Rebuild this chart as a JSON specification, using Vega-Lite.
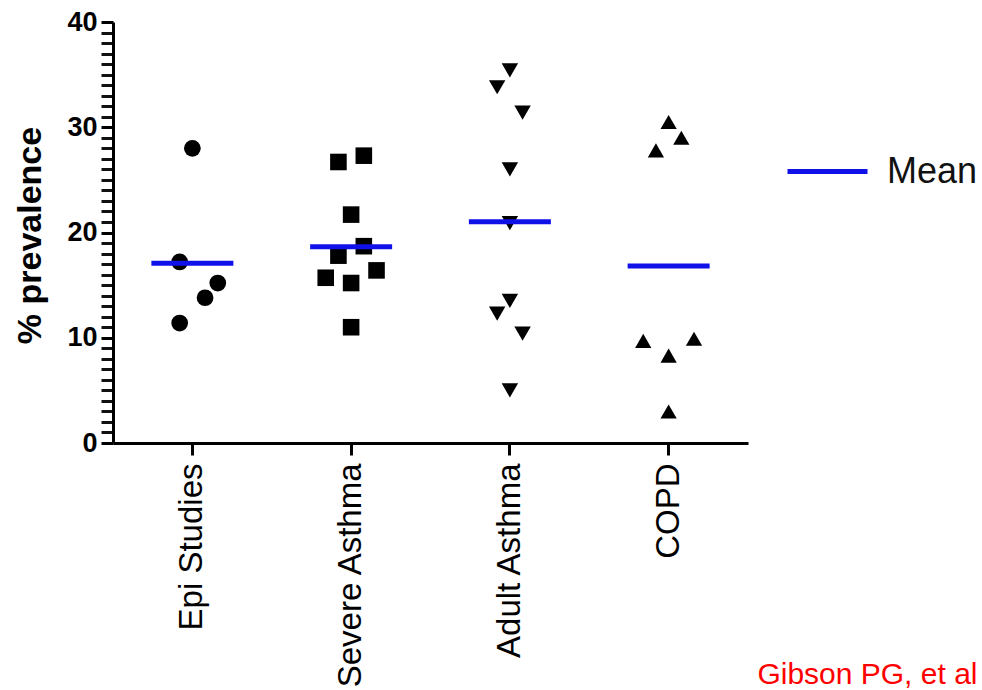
{
  "$schema": "https://vega.github.io/schema/vega-lite/v6.json",
  "autosize": "none",
  "width": 635,
  "height": 421,
  "padding": {"left": 113, "top": 22, "right": 234, "bottom": 247},
  "background": "white",
  "config": {"view": {"stroke": null}, "font": "Liberation Sans"},
  "datasets": {
    "points": [
      {"group": "Epi Studies", "value": 28.0, "lane": 0},
      {"group": "Epi Studies", "value": 17.2, "lane": -1},
      {"group": "Epi Studies", "value": 15.2, "lane": 2},
      {"group": "Epi Studies", "value": 13.8, "lane": 1},
      {"group": "Epi Studies", "value": 11.4, "lane": -1},
      {"group": "Severe Asthma", "value": 26.7, "lane": -1},
      {"group": "Severe Asthma", "value": 27.3, "lane": 1},
      {"group": "Severe Asthma", "value": 21.7, "lane": 0},
      {"group": "Severe Asthma", "value": 18.7, "lane": 1},
      {"group": "Severe Asthma", "value": 17.8, "lane": -1},
      {"group": "Severe Asthma", "value": 15.7, "lane": -2},
      {"group": "Severe Asthma", "value": 15.2, "lane": 0},
      {"group": "Severe Asthma", "value": 16.4, "lane": 2},
      {"group": "Severe Asthma", "value": 11.0, "lane": 0},
      {"group": "Adult Asthma", "value": 35.4, "lane": 0},
      {"group": "Adult Asthma", "value": 33.8, "lane": -1},
      {"group": "Adult Asthma", "value": 31.4, "lane": 1},
      {"group": "Adult Asthma", "value": 26.0, "lane": 0},
      {"group": "Adult Asthma", "value": 20.9, "lane": 0},
      {"group": "Adult Asthma", "value": 13.5, "lane": 0},
      {"group": "Adult Asthma", "value": 12.3, "lane": -1},
      {"group": "Adult Asthma", "value": 10.4, "lane": 1},
      {"group": "Adult Asthma", "value": 5.0, "lane": 0},
      {"group": "COPD", "value": 30.5, "lane": 0},
      {"group": "COPD", "value": 29.0, "lane": 1},
      {"group": "COPD", "value": 27.8, "lane": -1},
      {"group": "COPD", "value": 9.7, "lane": -2},
      {"group": "COPD", "value": 9.9, "lane": 2},
      {"group": "COPD", "value": 8.3, "lane": 0},
      {"group": "COPD", "value": 3.0, "lane": 0}
    ],
    "means": [
      {"group": "Epi Studies", "value": 17.07, "series": "Mean"},
      {"group": "Severe Asthma", "value": 18.65, "series": "Mean"},
      {"group": "Adult Asthma", "value": 21.03, "series": "Mean"},
      {"group": "COPD", "value": 16.82, "series": "Mean"}
    ]
  },
  "encoding": {
    "x": {
      "field": "group",
      "type": "nominal",
      "sort": ["Epi Studies", "Severe Asthma", "Adult Asthma", "COPD"],
      "scale": {"type": "band", "paddingInner": 0, "paddingOuter": 0},
      "axis": {
        "title": "Gibson PG, et al",
        "titleColor": "#ff0000",
        "titleFont": "Liberation Sans",
        "titleFontSize": 30,
        "titleFontWeight": "normal",
        "titleAlign": "right",
        "titleBaseline": "alphabetic",
        "titleAngle": 0,
        "titleX": 864,
        "titleY": 240,
        "titleLimit": 0,
        "labelAngle": -90,
        "labelFontSize": 33,
        "labelFont": "Liberation Sans",
        "labelColor": "#000000",
        "labelPadding": 8,
        "labelLimit": 0,
        "tickSize": 12,
        "tickWidth": 3,
        "tickColor": "#000000",
        "domainColor": "#000000",
        "domainWidth": 3,
        "grid": false
      }
    },
    "y": {
      "field": "value",
      "type": "quantitative",
      "scale": {"domain": [0, 40], "nice": false, "zero": true},
      "axis": {
        "title": "% prevalence",
        "titleFontSize": 34,
        "titleFontWeight": "bold",
        "titleFont": "Liberation Sans",
        "titleColor": "#000000",
        "titleAngle": -90,
        "titleAlign": "center",
        "titleBaseline": "alphabetic",
        "titleX": -73,
        "titleY": 213,
        "tickCount": 41,
        "values": [0,1,2,3,4,5,6,7,8,9,10,11,12,13,14,15,16,17,18,19,20,21,22,23,24,25,26,27,28,29,30,31,32,33,34,35,36,37,38,39,40],
        "labelExpr": "datum.value % 10 === 0 ? datum.label : ''",
        "labelOverlap": false,
        "labelFontSize": 27,
        "labelFontWeight": "bold",
        "labelFont": "Liberation Sans",
        "labelColor": "#000000",
        "labelPadding": 4,
        "tickSize": 12,
        "tickWidth": 3,
        "tickColor": {"condition": {"test": "datum.value % 10 === 0", "value": "#000000"}, "value": "#111111"},
        "domainColor": "#000000",
        "domainWidth": 3,
        "grid": false,
        "encode": {
          "ticks": {
            "update": {
              "x2": {"signal": "datum.value % 10 === 0 ? -12 : -6"}
            }
          }
        }
      }
    }
  },
  "layer": [
    {
      "data": {"name": "points"},
      "mark": {"type": "point", "filled": true, "opacity": 1, "color": "#000000"},
      "encoding": {
        "xOffset": {"field": "lane", "type": "quantitative", "scale": {"domain": [-6.25, 6.25]}},
        "shape": {
          "field": "group",
          "type": "nominal",
          "scale": {
            "domain": ["Epi Studies", "Severe Asthma", "Adult Asthma", "COPD"],
            "range": ["circle", "square", "triangle-down", "triangle-up"]
          },
          "legend": null
        },
        "size": {
          "field": "group",
          "type": "nominal",
          "scale": {
            "domain": ["Epi Studies", "Severe Asthma", "Adult Asthma", "COPD"],
            "range": [280, 265, 320, 320]
          },
          "legend": null
        }
      }
    },
    {
      "data": {"name": "means"},
      "mark": {"type": "tick", "size": 82, "thickness": 5, "opacity": 1},
      "encoding": {
        "color": {
          "field": "series",
          "type": "nominal",
          "scale": {"range": ["#1010e8"]},
          "legend": {
            "title": null,
            "orient": "none",
            "legendX": 672,
            "legendY": 107,
            "padding": 0,
            "symbolType": "stroke",
            "symbolSize": 6400,
            "symbolStrokeWidth": 5,
            "symbolStrokeColor": "#1010e8",
            "symbolFillColor": "#1010e8",
            "labelFontSize": 36,
            "labelFont": "Liberation Sans",
            "labelColor": "#111111",
            "labelOffset": 17
          }
        }
      }
    }
  ]
}
